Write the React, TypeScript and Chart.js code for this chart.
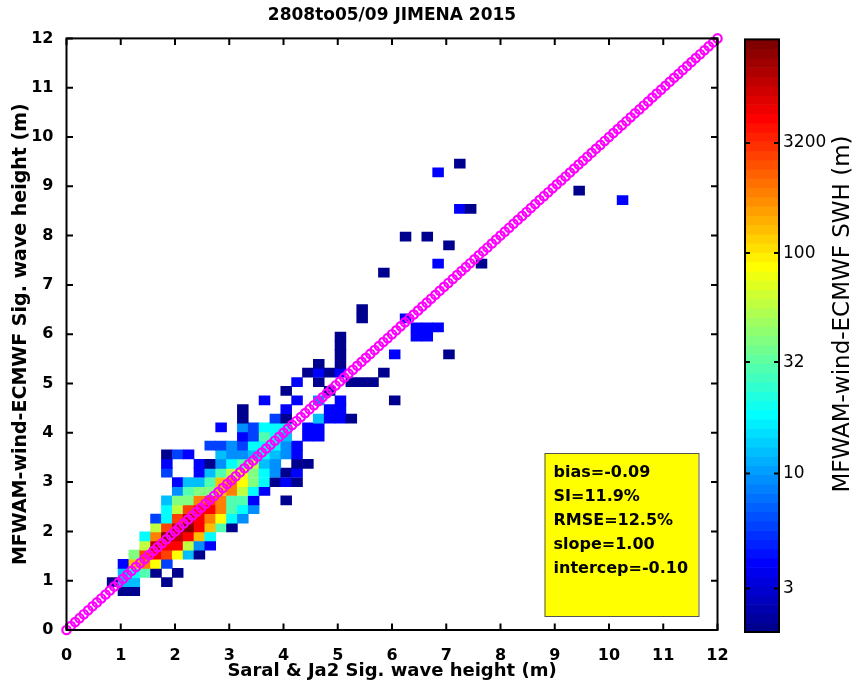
import { useEffect, useRef } from "react";
import { Chart, registerables } from "chart.js";

Chart.register(...registerables);

const titleText = "2808to05/09 JIMENA 2015";
const xAxisLabel = "Saral & Ja2 Sig. wave height (m)";
const yAxisLabel = "MFWAM-wind-ECMWF Sig. wave height (m)";
const colorbarLabel = "MFWAM-wind-ECMWF SWH (m)";
const axisTicks = [0, 1, 2, 3, 4, 5, 6, 7, 8, 9, 10, 11, 12];
const colorbarTickValues = [3, 10, 32, 100, 316];
const colorbarTickLabels = ["3", "10", "32", "100", "3200"];
const colorLogMin = 0.28;
const colorLogMax = 2.97;
const statsLines = ["bias=-0.09", "SI=11.9%", "RMSE=12.5%", "slope=1.00", "intercep=-0.10"];

// 2D histogram cells: row centre (y, m), cell centres (x, m) and counts per row
const cellRowY = [
  0.79, 0.97, 1.16, 1.34, 1.53, 1.71, 1.9, 2.08, 2.26, 2.45, 2.63, 2.82, 3.0, 3.19, 3.37, 3.56,
  3.74, 3.92, 4.11, 4.29, 4.48, 4.66, 4.85, 5.03, 5.22, 5.4, 5.59, 5.77, 5.95, 6.14, 6.32, 6.51,
  7.25, 7.43, 7.8, 7.98, 8.54, 8.72, 8.91, 9.28, 9.46,
];
const cellRowX = [
  [1.05, 1.25],
  [0.85, 1.05, 1.25, 1.85],
  [1.05, 1.25, 1.45, 1.65, 2.05],
  [1.05, 1.25, 1.45, 1.65, 1.85],
  [1.25, 1.45, 1.65, 1.85, 2.05, 2.25, 2.45],
  [1.45, 1.65, 1.85, 2.05, 2.25, 2.45, 2.65],
  [1.45, 1.65, 1.85, 2.05, 2.25, 2.45, 2.65],
  [1.65, 1.85, 2.05, 2.25, 2.45, 2.65, 2.85, 3.05],
  [1.65, 1.85, 2.05, 2.25, 2.45, 2.65, 2.85, 3.05, 3.25],
  [1.85, 2.05, 2.25, 2.45, 2.65, 2.85, 3.05, 3.25, 3.45],
  [1.85, 2.05, 2.25, 2.45, 2.65, 2.85, 3.05, 3.25, 3.45, 4.05],
  [2.05, 2.25, 2.45, 2.65, 2.85, 3.05, 3.25, 3.45, 3.65],
  [2.05, 2.25, 2.45, 2.65, 2.85, 3.05, 3.25, 3.45, 3.65, 3.85, 4.05, 4.25],
  [1.85, 2.45, 2.65, 2.85, 3.05, 3.25, 3.45, 3.65, 3.85, 4.05, 4.25],
  [1.85, 2.45, 2.65, 2.85, 3.05, 3.25, 3.45, 3.65, 3.85, 4.25, 4.45],
  [1.85, 2.05, 2.25, 2.85, 3.05, 3.25, 3.45, 3.65, 3.85, 4.05, 4.25],
  [2.65, 2.85, 3.05, 3.25, 3.45, 3.65, 3.85, 4.05, 4.25],
  [3.25, 3.45, 3.65, 3.85, 4.05, 4.45, 4.65],
  [2.85, 3.25, 3.45, 3.65, 3.85, 4.05, 4.45, 4.65],
  [3.25, 3.85, 4.05, 4.65, 4.85, 5.05, 5.25],
  [3.25, 4.05, 4.85, 5.05],
  [3.65, 4.25, 4.65, 5.05, 6.05],
  [4.05, 4.85],
  [4.25, 4.65, 5.25, 5.45, 5.65],
  [4.45, 4.65, 4.85, 5.05, 5.85],
  [4.65, 5.05],
  [5.05, 6.05, 7.05],
  [5.05],
  [5.05, 6.45, 6.65],
  [6.45, 6.65, 6.85],
  [5.45, 6.25],
  [5.45],
  [5.85],
  [6.85, 7.65],
  [7.05],
  [6.25, 6.65],
  [7.25, 7.45],
  [10.25],
  [9.45],
  [6.85],
  [7.25],
];
const cellRowCount = [
  [2, 2],
  [2, 13, 13, 2],
  [13, 19, 29, 2, 2],
  [4, 134, 198, 91, 6],
  [42, 290, 428, 290, 91, 13, 2],
  [62, 630, 428, 428, 62, 9, 4],
  [19, 198, 930, 630, 428, 134, 19],
  [62, 290, 630, 930, 428, 134, 29, 2],
  [6, 19, 290, 630, 428, 198, 91, 19, 9],
  [19, 62, 290, 428, 428, 198, 29, 19, 9],
  [13, 42, 42, 198, 290, 198, 29, 29, 4, 2],
  [9, 29, 42, 42, 134, 198, 62, 19, 4],
  [4, 13, 13, 29, 134, 198, 91, 42, 19, 2, 4, 2],
  [6, 4, 13, 29, 62, 91, 42, 19, 9, 2, 4],
  [4, 4, 2, 9, 19, 29, 62, 13, 9, 2, 2],
  [2, 6, 4, 13, 9, 9, 13, 19, 13, 9, 4],
  [6, 6, 9, 6, 19, 19, 19, 9, 4],
  [4, 6, 29, 19, 13, 4, 4],
  [4, 9, 6, 19, 19, 19, 4, 4],
  [2, 6, 2, 13, 4, 4, 2],
  [2, 4, 4, 4],
  [4, 4, 9, 4, 2],
  [2, 2],
  [4, 2, 2, 2, 2],
  [2, 4, 2, 4, 2],
  [2, 2],
  [2, 4, 2],
  [2],
  [2, 4, 4],
  [4, 4, 4],
  [2, 4],
  [2],
  [2],
  [4, 2],
  [2],
  [2, 2],
  [4, 2],
  [4],
  [2],
  [4],
  [2],
];
const binHeight = 0.1845;

// 1:1 reference line markers
const diagonalPoints = [
  0, 0.08, 0.16, 0.24, 0.32, 0.4, 0.48, 0.56, 0.64, 0.72, 0.8, 0.88, 0.96, 1.04, 1.12, 1.2, 1.28,
  1.36, 1.44, 1.52, 1.6, 1.68, 1.76, 1.84, 1.92, 2, 2.08, 2.16, 2.24, 2.32, 2.4, 2.48, 2.56, 2.64,
  2.72, 2.8, 2.88, 2.96, 3.04, 3.12, 3.2, 3.28, 3.36, 3.44, 3.52, 3.6, 3.68, 3.76, 3.84, 3.92, 4,
  4.08, 4.16, 4.24, 4.32, 4.4, 4.48, 4.56, 4.64, 4.72, 4.8, 4.88, 4.96, 5.04, 5.12, 5.2, 5.28,
  5.36, 5.44, 5.52, 5.6, 5.68, 5.76, 5.84, 5.92, 6, 6.08, 6.16, 6.24, 6.32, 6.4, 6.48, 6.56, 6.64,
  6.72, 6.8, 6.88, 6.96, 7.04, 7.12, 7.2, 7.28, 7.36, 7.44, 7.52, 7.6, 7.68, 7.76, 7.84, 7.92, 8,
  8.08, 8.16, 8.24, 8.32, 8.4, 8.48, 8.56, 8.64, 8.72, 8.8, 8.88, 8.96, 9.04, 9.12, 9.2, 9.28,
  9.36, 9.44, 9.52, 9.6, 9.68, 9.76, 9.84, 9.92, 10, 10.08, 10.16, 10.24, 10.32, 10.4, 10.48,
  10.56, 10.64, 10.72, 10.8, 10.88, 10.96, 11.04, 11.12, 11.2, 11.28, 11.36, 11.44, 11.52, 11.6,
  11.68, 11.76, 11.84, 11.92, 12,
];

const FONT = "'DejaVu Sans', 'Liberation Sans', Arial, sans-serif";

function jetLevel(i: number): string {
  const t = (i + 1) / 64;
  const c = (v: number) => Math.round(255 * Math.max(0, Math.min(1, 1.5 - Math.abs(4 * t - v))));
  return `rgb(${c(3)},${c(2)},${c(1)})`;
}

function levelOf(count: number): number {
  const p = (Math.log10(count) - colorLogMin) / (colorLogMax - colorLogMin);
  return Math.max(0, Math.min(63, Math.floor(p * 64)));
}

const framePlugin = {
  id: "frameTicks",
  afterDatasetsDraw(chart: any) {
    const { ctx, chartArea: a, scales } = chart;
    ctx.save();
    ctx.strokeStyle = "#000";
    ctx.lineWidth = 2;
    ctx.strokeRect(a.left, a.top, a.right - a.left, a.bottom - a.top);
    const tl = 6.5;
    ctx.beginPath();
    for (const v of axisTicks) {
      const px = scales.x.getPixelForValue(v);
      ctx.moveTo(px, a.bottom);
      ctx.lineTo(px, a.bottom - tl);
      ctx.moveTo(px, a.top);
      ctx.lineTo(px, a.top + tl);
      const py = scales.y.getPixelForValue(v);
      ctx.moveTo(a.left, py);
      ctx.lineTo(a.left + tl, py);
      ctx.moveTo(a.right, py);
      ctx.lineTo(a.right - tl, py);
    }
    ctx.stroke();
    ctx.restore();
  },
};

const extrasPlugin = {
  id: "extras",
  afterDraw(chart: any) {
    const { ctx, chartArea: a } = chart;
    ctx.save();
    // statistics box
    const bx = a.right - 173;
    const by = a.bottom - 177;
    ctx.fillStyle = "#FFFF00";
    ctx.fillRect(bx, by, 154, 163);
    ctx.strokeStyle = "#555";
    ctx.lineWidth = 1;
    ctx.strokeRect(bx + 0.5, by + 0.5, 154, 163);
    ctx.fillStyle = "#000";
    ctx.font = `bold 16px ${FONT}`;
    ctx.textAlign = "left";
    ctx.textBaseline = "middle";
    statsLines.forEach((s, i) => ctx.fillText(s, bx + 9, by + 19.5 + i * 24));

    // colorbar
    const cx = a.right + 27.5;
    const cw = 34;
    const top = a.top + 1;
    const bottom = a.bottom + 2;
    const h = bottom - top;
    for (let i = 0; i < 64; i++) {
      ctx.fillStyle = jetLevel(i);
      const y1 = bottom - ((i + 1) * h) / 64;
      ctx.fillRect(cx, y1, cw, h / 64 + 0.6);
    }
    ctx.strokeStyle = "#000";
    ctx.lineWidth = 2;
    ctx.strokeRect(cx, top, cw, h);
    ctx.font = `17px ${FONT}`;
    ctx.fillStyle = "#000";
    ctx.textAlign = "left";
    ctx.textBaseline = "middle";
    ctx.beginPath();
    colorbarTickValues.forEach((v, i) => {
      const p = (Math.log10(v) - colorLogMin) / (colorLogMax - colorLogMin);
      const y = bottom - p * h;
      ctx.moveTo(cx, y);
      ctx.lineTo(cx + 5, y);
      ctx.moveTo(cx + cw, y);
      ctx.lineTo(cx + cw - 5, y);
      ctx.fillText(colorbarTickLabels[i], cx + cw + 4, y);
    });
    ctx.stroke();
    ctx.translate(843, 314);
    ctx.rotate(-Math.PI / 2);
    ctx.font = `23px ${FONT}`;
    ctx.textAlign = "center";
    ctx.textBaseline = "middle";
    ctx.fillText(colorbarLabel, 0, 0);
    ctx.restore();
  },
};

export default function App() {
  const ref = useRef<HTMLCanvasElement | null>(null);
  useEffect(() => {
    if (!ref.current) return;
    const cellData: { x: number; y: number[] }[] = [];
    const cellColors: string[] = [];
    cellRowY.forEach((yc, r) => {
      cellRowX[r].forEach((xc, j) => {
        cellData.push({ x: xc, y: [yc - binHeight / 2, yc + binHeight / 2] });
        cellColors.push(jetLevel(levelOf(cellRowCount[r][j])));
      });
    });
    const chart = new Chart(ref.current, {
      type: "bar",
      data: {
        datasets: [
          {
            type: "scatter",
            data: diagonalPoints.map((v) => ({ x: v, y: v })),
            pointStyle: "circle",
            pointRadius: 4.2,
            borderWidth: 2.2,
            pointBorderColor: "#FF00FF",
            pointBackgroundColor: "rgba(0,0,0,0)",
            showLine: false,
            clip: false,
            order: 0,
          } as any,
          {
            type: "bar",
            data: cellData as any,
            backgroundColor: cellColors,
            borderWidth: 0,
            barPercentage: 1,
            categoryPercentage: 1,
            grouped: false,
            order: 1,
          } as any,
        ],
      },
      options: {
        animation: false,
        responsive: false,
        events: [],
        layout: { padding: { left: 0, right: 136.5, top: 0, bottom: 0 } },
        plugins: {
          legend: { display: false },
          tooltip: { enabled: false },
          title: {
            display: true,
            text: titleText,
            color: "#000",
            font: { family: FONT, size: 17, weight: "bold" },
            padding: { top: 5, bottom: 13 },
            fullSize: false,
          },
        },
        scales: {
          x: {
            type: "linear",
            min: 0,
            max: 12,
            offset: false,
            grid: { display: false },
            border: { display: false },
            afterBuildTicks: (s: any) => {
              s.ticks = axisTicks.map((v) => ({ value: v }));
            },
            afterFit: (s: any) => {
              s.height = 54;
            },
            ticks: {
              color: "#000",
              padding: 8,
              maxRotation: 0,
              autoSkip: false,
              font: { family: FONT, size: 16, weight: "bold" },
            },
            title: {
              display: true,
              text: xAxisLabel,
              color: "#000",
              font: { family: FONT, size: 18, weight: "bold" },
              padding: { top: 0, bottom: 1.5 },
            },
          },
          y: {
            type: "linear",
            min: 0,
            max: 12,
            grid: { display: false },
            border: { display: false },
            afterBuildTicks: (s: any) => {
              s.ticks = axisTicks.map((v) => ({ value: v }));
            },
            afterFit: (s: any) => {
              s.width = 66.5;
            },
            ticks: {
              color: "#000",
              padding: 5,
              autoSkip: false,
              font: { family: FONT, size: 16, weight: "bold" },
            },
            title: {
              display: true,
              text: yAxisLabel,
              color: "#000",
              font: { family: FONT, size: 19, weight: "bold" },
              padding: { top: 10, bottom: 0 },
            },
          },
        },
      } as any,
      plugins: [framePlugin, extrasPlugin],
    });
    return () => chart.destroy();
  }, []);
  return (
    <div style={{ position: "fixed", left: 0, top: 0, width: 854, height: 684, background: "#fff" }}>
      <canvas ref={ref} width={854} height={684} style={{ width: 854, height: 684 }} />
    </div>
  );
}
